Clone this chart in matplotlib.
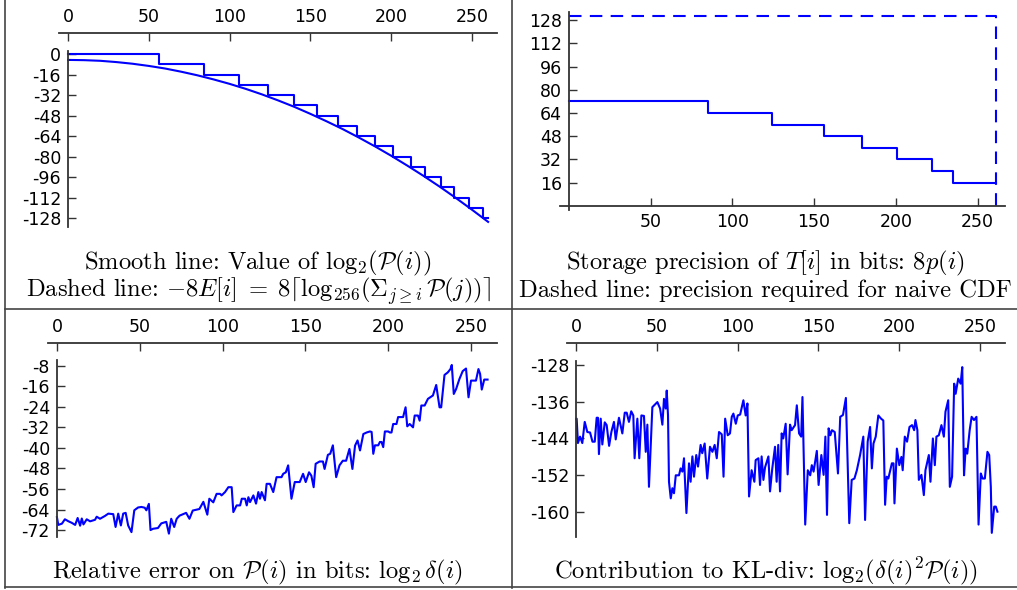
import numpy as np
import matplotlib
matplotlib.use("Agg")
import matplotlib.pyplot as plt
from matplotlib.lines import Line2D

plt.rcParams['axes.unicode_minus'] = False
plt.rcParams['mathtext.fontset'] = 'cm'
plt.rcParams['font.family'] = 'DejaVu Sans'

# --- top left: log2 P(i) and the stepped bound -8E[i]
curve_x = [0, 10, 20, 30, 40, 50, 60, 70, 80, 90, 100, 110, 120, 130,
           140, 150, 160, 170, 180, 190, 200, 210, 220, 230, 240, 250, 260]
curve_y = [-4.6, -4.8, -5.3, -6.3, -7.6, -9.3, -11.3, -13.8, -16.6, -19.8,
           -23.3, -27.2, -31.5, -36.2, -41.2, -46.7, -52.5, -58.6, -65.2,
           -72.1, -79.4, -87.1, -95.1, -103.5, -112.3, -121.5, -131.0]
step1_x = [0, 56, 84, 106, 124, 140, 154, 167, 179, 190, 201, 212, 221,
           231, 239, 248, 257, 260]
step1_y = [0, -8, -16, -24, -32, -40, -48, -56, -64, -72, -80, -88, -96,
           -104, -112, -120, -128, -128]

# --- top right: storage precision 8p(i), dashed naive CDF precision
step2_x = [0, 85, 124, 156, 179, 201, 222, 235, 261]
step2_y = [72, 64, 56, 48, 40, 32, 24, 16, 16]
naive_x = [0, 261, 261]
naive_y = [131, 131, 0]

# --- bottom left: relative error log2 delta(i)
err_x = [0, 0.8, 3, 4.8, 7, 9, 11, 12.5, 14, 15, 16, 18, 20, 23, 24, 26, 29,
         31, 34, 35.4, 37, 38.6, 40, 41.5, 43, 45, 46.7, 49, 51, 53, 54,
         55.5, 56.5, 58, 61, 63, 66, 67.6, 69, 70.8, 72.3, 74, 78, 80, 82,
         86, 88.4, 90.8, 92, 94.4, 96.4, 98.5, 99.4, 101.5, 103.5, 105.5,
         106.5, 108.5, 110.6, 111.6, 113.6, 114.6, 115.6, 116.6, 118.6,
         120.2, 121.6, 122.6, 123.6, 125.6, 126.6, 128.6, 130.6, 132.6,
         135.6, 136.6, 138.2, 139.6, 141.6, 143.6, 146.6, 148.6, 150.2,
         152.2, 153.6, 155, 156.2, 158.6, 160.6, 161.6, 163.6, 165, 166.6,
         168.6, 170.6, 172.6, 174.6, 176.6, 178.4, 180, 181.5, 183, 185,
         187, 189, 190, 191, 192, 194, 195, 196, 197, 198, 200, 201, 202,
         203, 205, 206, 209, 210.5, 211.5, 213, 215, 216, 218, 219, 220,
         222, 224, 227, 229, 231, 232, 234, 236, 237.6, 238.4, 239.6, 241,
         243, 245, 247, 248.5, 250, 253, 254.5, 255.5, 256.5, 258, 260]
err_y = [-67.0, -70.0, -69.5, -67.8, -68.6, -69.2, -70.0, -67.3, -70.3,
         -67.5, -69.8, -67.8, -68.6, -68.0, -66.8, -67.6, -66.5, -65.6,
         -65.8, -70.8, -65.6, -70.2, -65.6, -65.3, -70.2, -72.8, -64.3,
         -63.2, -63.0, -63.3, -64.3, -61.8, -72.0, -71.5, -71.2, -69.4,
         -68.8, -73.4, -67.6, -70.8, -67.6, -66.4, -65.3, -67.6, -64.4,
         -63.8, -61.0, -66.0, -59.8, -61.2, -57.9, -57.9, -58.5, -57.2,
         -55.3, -55.3, -65.0, -62.4, -62.4, -59.8, -59.8, -62.4, -59.2,
         -61.1, -58.5, -61.7, -57.2, -59.8, -57.2, -60.4, -54.0, -54.0,
         -57.2, -51.4, -51.4, -50.1, -49.5, -46.8, -59.8, -53.3, -53.3,
         -50.1, -53.3, -49.5, -50.8, -55.3, -46.2, -45.3, -45.3, -48.2,
         -42.7, -42.3, -39.0, -51.4, -46.8, -45.0, -45.0, -40.4, -48.2,
         -39.1, -37.1, -41.0, -34.6, -34.0, -33.6, -33.8, -42.3, -39.0,
         -39.0, -37.7, -37.7, -39.7, -33.6, -33.6, -34.0, -34.0, -30.7,
         -30.7, -28.0, -28.0, -24.2, -31.6, -30.7, -32.0, -27.4, -27.4,
         -29.4, -23.5, -23.5, -20.9, -19.6, -15.5, -24.2, -24.2, -11.6,
         -10.6, -9.3, -7.7, -19.0, -17.1, -13.2, -10.1, -9.1, -20.3, -13.8,
         -13.8, -9.3, -11.2, -17.3, -13.4, -13.4]

# --- bottom right: contribution to KL divergence
kl_x = [0, 0.2, 1, 2.3, 3.7, 5.2, 6.8, 8.5, 10, 11.4, 12.6, 13.4, 14, 15.1,
        16.1, 17.6, 18.8, 20.3, 21.7, 23.3, 24.4, 26.4, 28.5, 30, 31.2,
        32.6, 34, 35.3, 36.1, 37.8, 39, 40.3, 41.9, 43, 44, 45, 47.1, 50.2,
        51.9, 53.3, 54.3, 55.4, 56, 56.8, 57.4, 58.5, 59.5, 60.5, 61.6,
        63.6, 64.6, 65.7, 66.7, 68.2, 69.8, 70.8, 71.9, 72.9, 74.3, 75.4,
        77, 78, 79.5, 81.1, 82.8, 84.3, 85.7, 87, 88.4, 90.1, 91.2, 92.2,
        93.8, 95.2, 96.3, 97.3, 98.8, 100, 101.5, 103.5, 104.9, 106, 107,
        108.6, 110.3, 111.1, 112.8, 113.8, 114.8, 115.9, 116.9, 119, 120,
        121.4, 123.1, 124.1, 125.1, 126.2, 127.2, 128.2, 129.7, 130.9,
        132.4, 133.4, 135.5, 136.6, 138, 139.3, 140.1, 141.8, 143.4, 144.9,
        145.9, 147, 149, 150.1, 151.8, 153.2, 154.3, 155.3, 156.3, 157.4,
        158.4, 160.1, 162.1, 163.5, 165.2, 167, 169.1, 170.6, 172.3, 173.8,
        175.8, 177.8, 178.9, 180.5, 182, 183.1, 184.1, 185.5, 187.1, 188.8,
        190.2, 191.3, 192.3, 193.3, 195.5, 196.5, 197.1, 198.6, 200.1,
        201.4, 202.2, 203.5, 204.9, 206.4, 208, 209.3, 210.1, 211.3, 212.2,
        213.8, 215.3, 216.3, 218.4, 219.4, 220.9, 222.1, 223.1, 224.6,
        226.2, 227.7, 228.7, 230.4, 231.4, 232.8, 234.1, 235, 236.6, 238.1,
        239.1, 240.2, 241.2, 242.2, 243.7, 244.9, 246.4, 247.9, 249.2,
        250.6, 251.7, 253.1, 254.7, 255.8, 256.8, 257.4, 258.9, 259.9,
        260.9]
kl_y = [-139.7, -139.7, -145.0, -143.6, -145.0, -140.4, -142.6, -142.7,
        -144.7, -144.7, -139.5, -139.5, -147.4, -139.7, -145.3, -140.5,
        -141.1, -145.6, -142.6, -140.4, -144.2, -139.5, -142.9, -138.4,
        -138.4, -140.4, -138.1, -139.0, -148.3, -139.7, -148.3, -139.0,
        -139.1, -146.9, -141.0, -154.5, -137.2, -136.1, -137.5, -141.0,
        -135.4, -137.5, -133.6, -139.0, -153.4, -157.0, -154.8, -155.9,
        -152.0, -152.0, -150.5, -151.2, -148.3, -160.2, -149.4, -153.4,
        -147.9, -152.3, -147.6, -150.1, -145.4, -147.2, -145.1, -152.7,
        -145.8, -146.9, -145.4, -148.3, -142.6, -143.1, -152.3, -139.7,
        -143.3, -142.9, -139.3, -138.6, -140.8, -139.0, -138.8, -135.7,
        -139.0, -136.4, -156.6, -150.9, -153.4, -148.7, -148.3, -154.1,
        -147.9, -153.0, -150.3, -147.9, -155.5, -150.5, -145.8, -153.4,
        -145.4, -155.5, -142.9, -144.0, -140.8, -151.8, -141.0, -142.2,
        -141.1, -136.8, -142.9, -143.6, -135.0, -162.7, -150.9, -152.0,
        -149.8, -151.2, -146.7, -154.1, -147.6, -151.9, -143.6, -160.6,
        -141.8, -143.3, -142.2, -142.6, -151.6, -139.3, -138.9, -135.2,
        -162.4, -153.0, -152.7, -150.9, -147.6, -143.6, -161.7, -144.7,
        -141.5, -150.5, -145.1, -143.6, -139.0, -139.7, -140.1, -158.4,
        -152.3, -152.7, -149.4, -149.4, -158.1, -146.2, -149.8, -148.0,
        -150.9, -143.6, -144.7, -141.5, -141.1, -142.2, -140.0, -142.2,
        -153.0, -151.9, -156.3, -150.9, -147.6, -153.4, -144.0, -149.8,
        -143.6, -143.3, -141.1, -143.6, -138.2, -135.7, -154.5, -152.3,
        -132.1, -134.3, -131.0, -132.1, -128.5, -152.0, -146.2, -147.3,
        -142.2, -139.3, -140.0, -139.3, -162.7, -151.6, -152.7, -152.7,
        -146.9, -147.6, -154.5, -164.5, -158.8, -158.8, -159.9]

W, H = 1017, 590
fig = plt.figure(figsize=(W / 100, H / 100), dpi=100)
blue = '#0000ff'
axcol = '#333333'


def make_axes(l, r, t, b):
    return fig.add_axes([l / W, 1 - b / H, (r - l) / W, (b - t) / H])


def style(ax, xticks, yticks, top=True):
    for s in ax.spines.values():
        s.set_color(axcol)
        s.set_linewidth(1.3)
    ax.spines['right'].set_visible(False)
    ax.spines['left'].set_position(('data', 0))
    if top:
        ax.spines['bottom'].set_visible(False)
        ax.xaxis.tick_top()
    else:
        ax.spines['top'].set_visible(False)
        ax.spines['bottom'].set_position(('data', 0))
    ax.set_xticks(xticks)
    ax.set_yticks(yticks)
    ax.tick_params(direction='in', length=6, width=1, color=axcol,
                   labelsize=12.5, pad=5)
    ax.patch.set_alpha(0)


# top left
ax1 = make_axes(59, 497, 33, 227)
ax1.plot(curve_x, curve_y, color=blue, lw=1.5)
ax1.plot(step1_x, step1_y, color=blue, lw=1.5, drawstyle='steps-post')
ax1.set_xlim(-5.6, 265.5)
ax1.set_ylim(-135, 16.4)
style(ax1, range(0, 251, 50), range(0, -129, -16))
ax1.spines['left'].set_bounds(-135, 2.3)

# top right
ax2 = make_axes(560, 1005, 12, 210)
ax2.plot(step2_x, step2_y, color=blue, lw=1.5, drawstyle='steps-post')
ax2.plot(naive_x, naive_y, color=blue, lw=1.5, ls=(0, (6, 4)))
ax2.set_xlim(-5.5, 266.8)
ax2.set_ylim(-2.8, 133.6)
style(ax2, range(50, 251, 50), range(16, 129, 16), top=False)

# bottom left
ax3 = make_axes(48, 497, 342.7, 537)
ax3.plot(err_x, err_y, color=blue, lw=1.5)
ax3.set_xlim(-5.4, 265.7)
ax3.set_ylim(-74.7, 0.96)
style(ax3, range(0, 251, 50), range(-8, -73, -8))
ax3.spines['left'].set_bounds(-74.7, -5.8)

# bottom right
ax4 = make_axes(567.3, 1004.7, 342.7, 537)
ax4.plot(kl_x, kl_y, color=blue, lw=1.5)
ax4.set_xlim(-5.6, 265.4)
ax4.set_ylim(-165.4, -123.2)
style(ax4, range(0, 251, 50), range(-128, -161, -8))
ax4.spines['left'].set_bounds(-165.4, -127.1)

# captions
cap = dict(ha='center', va='baseline', fontsize=17.7, family='cmr10')
fig.text(258 / W, 1 - 269 / H,
         r'Smooth line: Value of $\mathrm{log}_2(\mathcal{P}(i))$', **cap)
fig.text(258 / W, 1 - 297 / H,
         r'Dashed line: $-8E[i]\;=\;8\lceil\mathrm{log}_{256}(\Sigma_{j\geq i}\,\mathcal{P}(j))\rceil$',
         **cap)
fig.text(765.5 / W, 1 - 269 / H,
         r'Storage precision of $T[i]$ in bits: $8p(i)$', **cap)
fig.text(765.5 / W, 1 - 297 / H,
         'Dashed line: precision required for naive CDF', **cap)
fig.text(258 / W, 1 - 578 / H,
         r'Relative error on $\mathcal{P}(i)$ in bits: $\mathrm{log}_2\,\delta(i)$', **cap)
fig.text(765.5 / W, 1 - 578 / H,
         r'Contribution to KL-div: $\mathrm{log}_2(\delta(i)^2\mathcal{P}(i))$', **cap)

# table rules
rule = dict(color='#444444', lw=1.2)
fig.add_artist(Line2D([5 / W, 5 / W], [1, 1 - 588 / H], **rule))
fig.add_artist(Line2D([512 / W, 512 / W], [1, 1 - 588 / H], **rule))
fig.add_artist(Line2D([5 / W, 1], [1 - 309 / H, 1 - 309 / H], **rule))
fig.add_artist(Line2D([5 / W, 1], [1 - 587 / H, 1 - 587 / H], **rule))

fig.savefig('out.png', dpi=100)
